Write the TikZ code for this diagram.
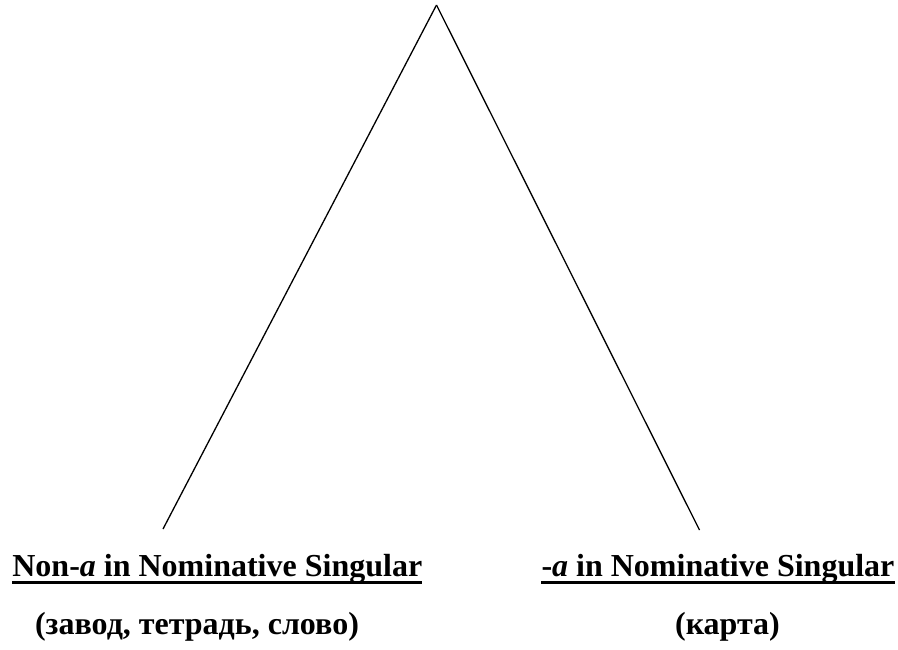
\documentclass[tikz,border=0pt]{standalone}
\usepackage{fontspec}
\setmainfont{Liberation Serif}
\begin{document}
\begin{tikzpicture}[x=1pt,y=-1pt,
  branch/.style={line width=1.3pt},
  label/.style={font=\bfseries\fontsize{32}{36}\selectfont, inner sep=0pt, anchor=base},
  rule/.style={line width=3.5pt}]
  \useasboundingbox (0,0) rectangle (898,649);
  % the two branches from the root
  \coordinate (root) at (436.5,5);
  \coordinate (leftend) at (163,529);
  \coordinate (rightend) at (699.5,530);
  \draw[branch] (root) -- (leftend);
  \draw[branch] (root) -- (rightend);
  % leaf headings, underlined
  \node[label] (nona) at (217.3,576.5) {Non-\textit{a} in Nominative Singular};
  \node[label] (isa) at (718,576.5) {-\textit{a} in Nominative Singular};
  \draw[rule] ([yshift=-6pt]nona.base west) -- ([yshift=-6pt]nona.base east);
  \draw[rule] ([yshift=-6pt]isa.base west) -- ([yshift=-6pt]isa.base east);
  % examples
  \node[label] (exnona) at (197,634) {(завод, тетрадь, слово)};
  \node[label] (exisa) at (727.5,634) {(карта)};
\end{tikzpicture}
\end{document}
